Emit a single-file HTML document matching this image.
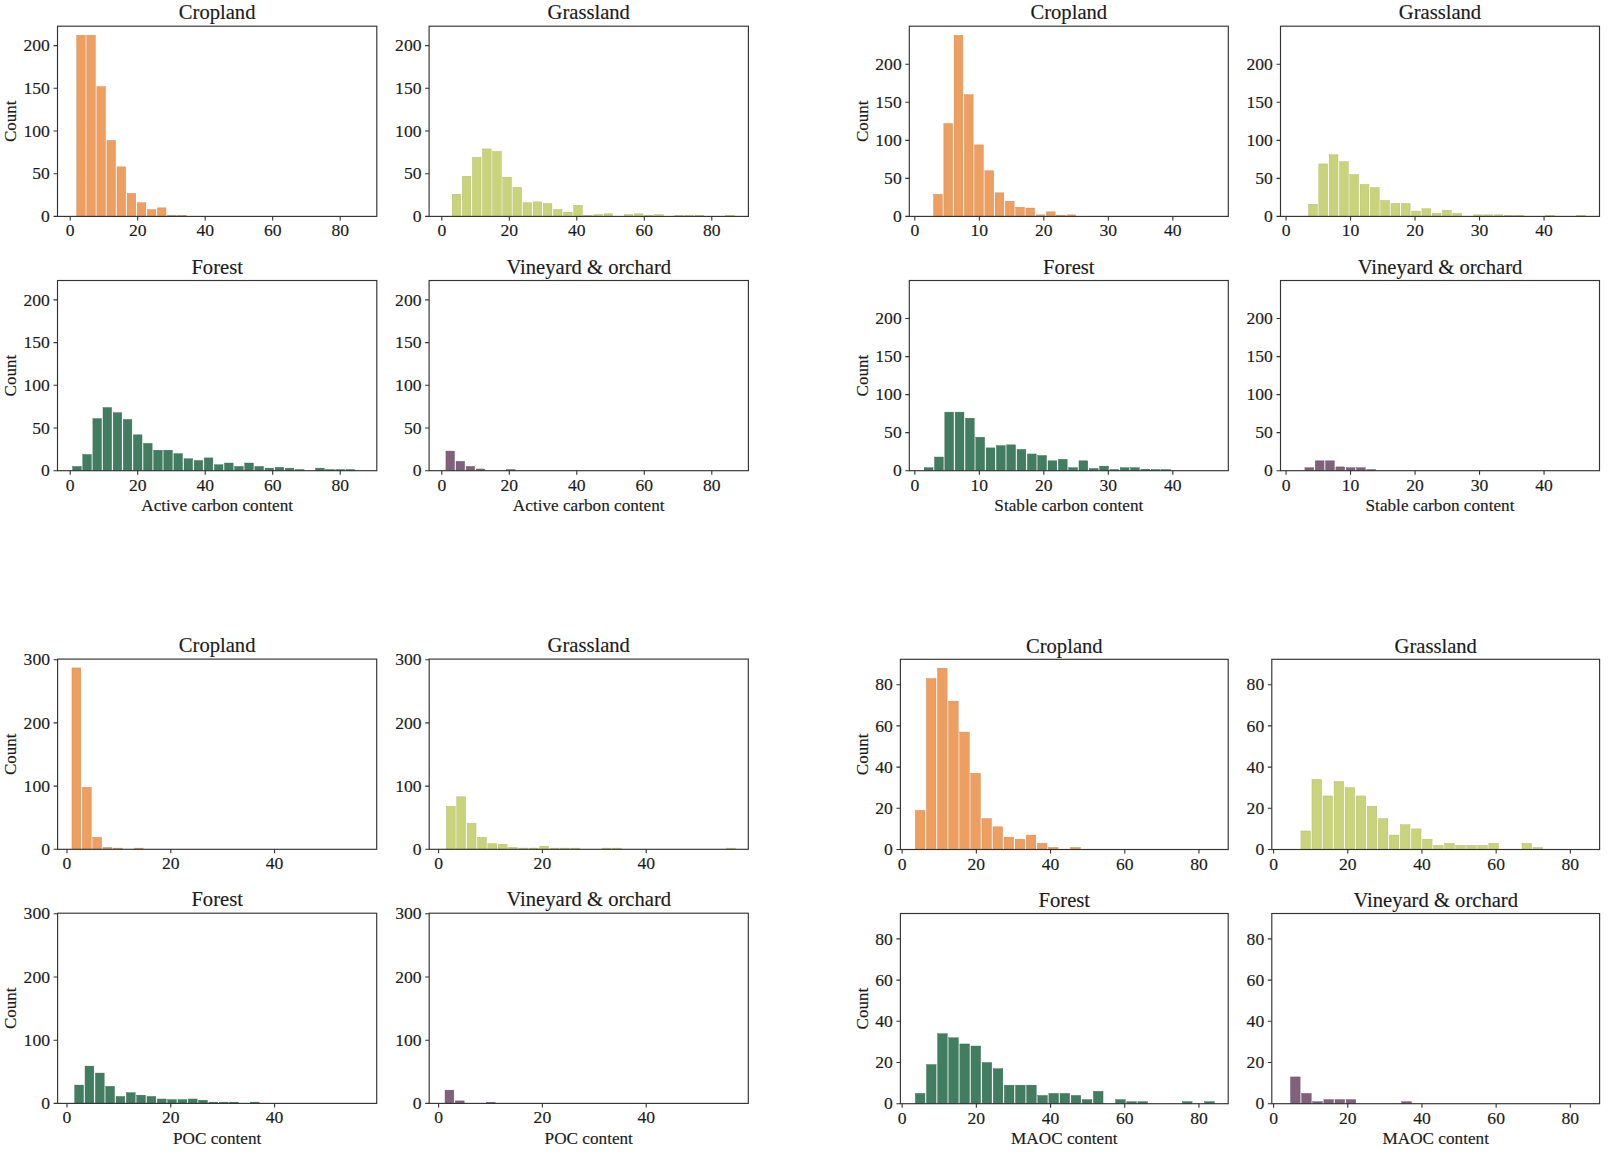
<!DOCTYPE html>
<html><head><meta charset="utf-8"><style>
html,body{margin:0;padding:0;background:#fff;}
svg{display:block;}
text{font-family:"Liberation Serif", serif;stroke:#1a1a1a;stroke-width:0.15px;}
</style></head><body>
<svg width="1608" height="1152" viewBox="0 0 1608 1152">
<rect width="1608" height="1152" fill="#fff"/>
<g fill="#EE9E5F" stroke="#ca8651" stroke-width="0.4"><rect x="76.69" y="35.35" width="8.59" height="181.05"/><rect x="86.78" y="35.35" width="8.59" height="181.05"/><rect x="96.87" y="86.59" width="8.59" height="129.81"/><rect x="106.96" y="140.39" width="8.59" height="76.01"/><rect x="117.05" y="166.87" width="8.59" height="49.53"/><rect x="127.14" y="193.34" width="8.59" height="23.06"/><rect x="137.24" y="202.74" width="8.59" height="13.66"/><rect x="147.33" y="209.57" width="8.59" height="6.83"/><rect x="157.42" y="207.86" width="8.59" height="8.54"/><rect x="167.51" y="215.2" width="8.59" height="1.2"/><rect x="177.6" y="215.2" width="8.59" height="1.2"/></g>
<rect x="57.5" y="26.2" width="319.3" height="190.2" fill="none" stroke="#333333" stroke-width="1.15"/>
<path d="M53.5 216.4H57.5M53.5 173.7H57.5M53.5 131H57.5M53.5 88.3H57.5M53.5 45.6H57.5M70.2 216.4V220.4M137.7 216.4V220.4M205.2 216.4V220.4M272.7 216.4V220.4M340.2 216.4V220.4" stroke="#333333" stroke-width="1.1" fill="none"/>
<g font-size="17.6" fill="#1a1a1a"><text x="49.9" y="222" text-anchor="end">0</text><text x="49.9" y="179.3" text-anchor="end">50</text><text x="49.9" y="136.6" text-anchor="end">100</text><text x="49.9" y="93.9" text-anchor="end">150</text><text x="49.9" y="51.2" text-anchor="end">200</text><text x="70.2" y="236.4" text-anchor="middle">0</text><text x="137.7" y="236.4" text-anchor="middle">20</text><text x="205.2" y="236.4" text-anchor="middle">40</text><text x="272.7" y="236.4" text-anchor="middle">60</text><text x="340.2" y="236.4" text-anchor="middle">80</text></g>
<text x="217.15" y="19.4" text-anchor="middle" font-size="20.6" fill="#1a1a1a">Cropland</text>
<text transform="translate(15.9 121.3) rotate(-90)" text-anchor="middle" font-size="17" fill="#1a1a1a">Count</text>
<g fill="#C9D47A" stroke="#abb468" stroke-width="0.4"><rect x="452.17" y="194.2" width="8.62" height="22.2"/><rect x="462.29" y="176.26" width="8.62" height="40.14"/><rect x="472.42" y="157.47" width="8.62" height="58.93"/><rect x="482.54" y="148.93" width="8.62" height="67.47"/><rect x="492.67" y="151.5" width="8.62" height="64.9"/><rect x="502.79" y="177.12" width="8.62" height="39.28"/><rect x="512.92" y="187.36" width="8.62" height="29.04"/><rect x="523.04" y="202.74" width="8.62" height="13.66"/><rect x="533.17" y="201.88" width="8.62" height="14.52"/><rect x="543.29" y="203.59" width="8.62" height="12.81"/><rect x="553.42" y="209.57" width="8.62" height="6.83"/><rect x="563.54" y="212.13" width="8.62" height="4.27"/><rect x="573.67" y="205.3" width="8.62" height="11.1"/><rect x="583.79" y="215.2" width="8.62" height="1.2"/><rect x="593.92" y="214.69" width="8.62" height="1.71"/><rect x="604.04" y="213.84" width="8.62" height="2.56"/><rect x="624.29" y="214.69" width="8.62" height="1.71"/><rect x="634.42" y="213.84" width="8.62" height="2.56"/><rect x="644.54" y="215.2" width="8.62" height="1.2"/><rect x="654.67" y="214.69" width="8.62" height="1.71"/><rect x="674.92" y="215.2" width="8.62" height="1.2"/><rect x="685.04" y="215.2" width="8.62" height="1.2"/><rect x="695.17" y="215.2" width="8.62" height="1.2"/><rect x="725.54" y="215.2" width="8.62" height="1.2"/></g>
<rect x="429.1" y="26.2" width="319.3" height="190.2" fill="none" stroke="#333333" stroke-width="1.15"/>
<path d="M425.1 216.4H429.1M425.1 173.7H429.1M425.1 131H429.1M425.1 88.3H429.1M425.1 45.6H429.1M441.8 216.4V220.4M509.3 216.4V220.4M576.8 216.4V220.4M644.3 216.4V220.4M711.8 216.4V220.4" stroke="#333333" stroke-width="1.1" fill="none"/>
<g font-size="17.6" fill="#1a1a1a"><text x="421.5" y="222" text-anchor="end">0</text><text x="421.5" y="179.3" text-anchor="end">50</text><text x="421.5" y="136.6" text-anchor="end">100</text><text x="421.5" y="93.9" text-anchor="end">150</text><text x="421.5" y="51.2" text-anchor="end">200</text><text x="441.8" y="236.4" text-anchor="middle">0</text><text x="509.3" y="236.4" text-anchor="middle">20</text><text x="576.8" y="236.4" text-anchor="middle">40</text><text x="644.3" y="236.4" text-anchor="middle">60</text><text x="711.8" y="236.4" text-anchor="middle">80</text></g>
<text x="588.75" y="19.4" text-anchor="middle" font-size="20.6" fill="#1a1a1a">Grassland</text>
<g fill="#417D61" stroke="#376a52" stroke-width="0.4"><rect x="72.64" y="466.43" width="8.62" height="4.27"/><rect x="82.76" y="454.47" width="8.62" height="16.23"/><rect x="92.89" y="418.61" width="8.62" height="52.09"/><rect x="103.01" y="407.5" width="8.62" height="63.2"/><rect x="113.14" y="412.63" width="8.62" height="58.07"/><rect x="123.26" y="419.46" width="8.62" height="51.24"/><rect x="133.39" y="434.83" width="8.62" height="35.87"/><rect x="143.51" y="443.37" width="8.62" height="27.33"/><rect x="153.64" y="450.2" width="8.62" height="20.5"/><rect x="163.76" y="450.2" width="8.62" height="20.5"/><rect x="173.89" y="453.62" width="8.62" height="17.08"/><rect x="184.01" y="458.74" width="8.62" height="11.96"/><rect x="194.14" y="460.45" width="8.62" height="10.25"/><rect x="204.26" y="457.89" width="8.62" height="12.81"/><rect x="214.39" y="464.72" width="8.62" height="5.98"/><rect x="224.51" y="463.01" width="8.62" height="7.69"/><rect x="234.64" y="466.43" width="8.62" height="4.27"/><rect x="244.76" y="463.01" width="8.62" height="7.69"/><rect x="254.89" y="466.43" width="8.62" height="4.27"/><rect x="265.01" y="468.14" width="8.62" height="2.56"/><rect x="275.14" y="467.28" width="8.62" height="3.42"/><rect x="285.26" y="468.14" width="8.62" height="2.56"/><rect x="295.39" y="469.5" width="8.62" height="1.2"/><rect x="315.64" y="468.14" width="8.62" height="2.56"/><rect x="325.76" y="469.5" width="8.62" height="1.2"/><rect x="335.89" y="469.5" width="8.62" height="1.2"/><rect x="346.01" y="469.5" width="8.62" height="1.2"/></g>
<rect x="57.5" y="280.5" width="319.3" height="190.2" fill="none" stroke="#333333" stroke-width="1.15"/>
<path d="M53.5 470.7H57.5M53.5 428H57.5M53.5 385.3H57.5M53.5 342.6H57.5M53.5 299.9H57.5M70.2 470.7V474.7M137.7 470.7V474.7M205.2 470.7V474.7M272.7 470.7V474.7M340.2 470.7V474.7" stroke="#333333" stroke-width="1.1" fill="none"/>
<g font-size="17.6" fill="#1a1a1a"><text x="49.9" y="476.3" text-anchor="end">0</text><text x="49.9" y="433.6" text-anchor="end">50</text><text x="49.9" y="390.9" text-anchor="end">100</text><text x="49.9" y="348.2" text-anchor="end">150</text><text x="49.9" y="305.5" text-anchor="end">200</text><text x="70.2" y="490.7" text-anchor="middle">0</text><text x="137.7" y="490.7" text-anchor="middle">20</text><text x="205.2" y="490.7" text-anchor="middle">40</text><text x="272.7" y="490.7" text-anchor="middle">60</text><text x="340.2" y="490.7" text-anchor="middle">80</text></g>
<text x="217.15" y="273.7" text-anchor="middle" font-size="20.6" fill="#1a1a1a">Forest</text>
<text x="217.15" y="511" text-anchor="middle" font-size="17.2" fill="#1a1a1a">Active carbon content</text>
<text transform="translate(15.9 375.6) rotate(-90)" text-anchor="middle" font-size="17" fill="#1a1a1a">Count</text>
<g fill="#80607A" stroke="#6d5268" stroke-width="0.4"><rect x="445.93" y="451.06" width="8.59" height="19.64"/><rect x="456.02" y="461.31" width="8.59" height="9.39"/><rect x="466.11" y="466.43" width="8.59" height="4.27"/><rect x="476.2" y="468.99" width="8.59" height="1.71"/><rect x="506.47" y="469.5" width="8.59" height="1.2"/></g>
<rect x="429.1" y="280.5" width="319.3" height="190.2" fill="none" stroke="#333333" stroke-width="1.15"/>
<path d="M425.1 470.7H429.1M425.1 428H429.1M425.1 385.3H429.1M425.1 342.6H429.1M425.1 299.9H429.1M441.8 470.7V474.7M509.3 470.7V474.7M576.8 470.7V474.7M644.3 470.7V474.7M711.8 470.7V474.7" stroke="#333333" stroke-width="1.1" fill="none"/>
<g font-size="17.6" fill="#1a1a1a"><text x="421.5" y="476.3" text-anchor="end">0</text><text x="421.5" y="433.6" text-anchor="end">50</text><text x="421.5" y="390.9" text-anchor="end">100</text><text x="421.5" y="348.2" text-anchor="end">150</text><text x="421.5" y="305.5" text-anchor="end">200</text><text x="441.8" y="490.7" text-anchor="middle">0</text><text x="509.3" y="490.7" text-anchor="middle">20</text><text x="576.8" y="490.7" text-anchor="middle">40</text><text x="644.3" y="490.7" text-anchor="middle">60</text><text x="711.8" y="490.7" text-anchor="middle">80</text></g>
<text x="588.75" y="273.7" text-anchor="middle" font-size="20.6" fill="#1a1a1a">Vineyard &amp; orchard</text>
<text x="588.75" y="511" text-anchor="middle" font-size="17.2" fill="#1a1a1a">Active carbon content</text>
<g fill="#EE9E5F" stroke="#ca8651" stroke-width="0.4"><rect x="933.6" y="194.34" width="8.76" height="22.06"/><rect x="943.85" y="123.59" width="8.76" height="92.81"/><rect x="954.11" y="35.35" width="8.76" height="181.05"/><rect x="964.36" y="94.69" width="8.76" height="121.71"/><rect x="974.62" y="144.89" width="8.76" height="71.51"/><rect x="984.87" y="170.76" width="8.76" height="45.64"/><rect x="995.13" y="192.82" width="8.76" height="23.58"/><rect x="1005.38" y="201.19" width="8.76" height="15.21"/><rect x="1015.64" y="207.27" width="8.76" height="9.13"/><rect x="1025.89" y="208.03" width="8.76" height="8.37"/><rect x="1036.15" y="214.88" width="8.76" height="1.52"/><rect x="1046.41" y="211.84" width="8.76" height="4.56"/><rect x="1056.66" y="215.2" width="8.76" height="1.2"/><rect x="1066.92" y="214.88" width="8.76" height="1.52"/></g>
<rect x="909.3" y="26.2" width="319" height="190.2" fill="none" stroke="#333333" stroke-width="1.15"/>
<path d="M905.3 216.4H909.3M905.3 178.36H909.3M905.3 140.33H909.3M905.3 102.29H909.3M905.3 64.26H909.3M914.85 216.4V220.4M979.35 216.4V220.4M1043.85 216.4V220.4M1108.35 216.4V220.4M1172.85 216.4V220.4" stroke="#333333" stroke-width="1.1" fill="none"/>
<g font-size="17.6" fill="#1a1a1a"><text x="901.7" y="222" text-anchor="end">0</text><text x="901.7" y="183.96" text-anchor="end">50</text><text x="901.7" y="145.93" text-anchor="end">100</text><text x="901.7" y="107.89" text-anchor="end">150</text><text x="901.7" y="69.86" text-anchor="end">200</text><text x="914.85" y="236.4" text-anchor="middle">0</text><text x="979.35" y="236.4" text-anchor="middle">10</text><text x="1043.85" y="236.4" text-anchor="middle">20</text><text x="1108.35" y="236.4" text-anchor="middle">30</text><text x="1172.85" y="236.4" text-anchor="middle">40</text></g>
<text x="1068.8" y="19.4" text-anchor="middle" font-size="20.6" fill="#1a1a1a">Cropland</text>
<text transform="translate(867.6 121.3) rotate(-90)" text-anchor="middle" font-size="17" fill="#1a1a1a">Count</text>
<g fill="#C9D47A" stroke="#abb468" stroke-width="0.4"><rect x="1308.54" y="204.23" width="8.81" height="12.17"/><rect x="1318.84" y="163.91" width="8.81" height="52.49"/><rect x="1329.15" y="154.78" width="8.81" height="61.62"/><rect x="1339.46" y="161.63" width="8.81" height="54.77"/><rect x="1349.76" y="174.56" width="8.81" height="41.84"/><rect x="1360.07" y="184.45" width="8.81" height="31.95"/><rect x="1370.38" y="187.49" width="8.81" height="28.91"/><rect x="1380.69" y="200.43" width="8.81" height="15.97"/><rect x="1390.99" y="203.47" width="8.81" height="12.93"/><rect x="1401.3" y="203.47" width="8.81" height="12.93"/><rect x="1411.61" y="211.08" width="8.81" height="5.32"/><rect x="1421.91" y="208.79" width="8.81" height="7.61"/><rect x="1432.22" y="213.36" width="8.81" height="3.04"/><rect x="1442.53" y="210.31" width="8.81" height="6.09"/><rect x="1452.84" y="213.36" width="8.81" height="3.04"/><rect x="1473.45" y="214.88" width="8.81" height="1.52"/><rect x="1483.76" y="214.88" width="8.81" height="1.52"/><rect x="1494.06" y="214.88" width="8.81" height="1.52"/><rect x="1504.37" y="215.2" width="8.81" height="1.2"/><rect x="1514.68" y="215.2" width="8.81" height="1.2"/><rect x="1545.6" y="215.2" width="8.81" height="1.2"/><rect x="1576.52" y="215.2" width="8.81" height="1.2"/></g>
<rect x="1280.5" y="26.2" width="319" height="190.2" fill="none" stroke="#333333" stroke-width="1.15"/>
<path d="M1276.5 216.4H1280.5M1276.5 178.36H1280.5M1276.5 140.33H1280.5M1276.5 102.29H1280.5M1276.5 64.26H1280.5M1286.05 216.4V220.4M1350.55 216.4V220.4M1415.05 216.4V220.4M1479.55 216.4V220.4M1544.05 216.4V220.4" stroke="#333333" stroke-width="1.1" fill="none"/>
<g font-size="17.6" fill="#1a1a1a"><text x="1272.9" y="222" text-anchor="end">0</text><text x="1272.9" y="183.96" text-anchor="end">50</text><text x="1272.9" y="145.93" text-anchor="end">100</text><text x="1272.9" y="107.89" text-anchor="end">150</text><text x="1272.9" y="69.86" text-anchor="end">200</text><text x="1286.05" y="236.4" text-anchor="middle">0</text><text x="1350.55" y="236.4" text-anchor="middle">10</text><text x="1415.05" y="236.4" text-anchor="middle">20</text><text x="1479.55" y="236.4" text-anchor="middle">30</text><text x="1544.05" y="236.4" text-anchor="middle">40</text></g>
<text x="1440" y="19.4" text-anchor="middle" font-size="20.6" fill="#1a1a1a">Grassland</text>
<g fill="#417D61" stroke="#376a52" stroke-width="0.4"><rect x="924.18" y="467.66" width="8.82" height="3.04"/><rect x="934.5" y="457.01" width="8.82" height="13.69"/><rect x="944.82" y="412.13" width="8.82" height="58.57"/><rect x="955.14" y="412.13" width="8.82" height="58.57"/><rect x="965.46" y="418.21" width="8.82" height="52.49"/><rect x="975.78" y="437.23" width="8.82" height="33.47"/><rect x="986.1" y="447.88" width="8.82" height="22.82"/><rect x="996.42" y="445.6" width="8.82" height="25.1"/><rect x="1006.74" y="444.84" width="8.82" height="25.86"/><rect x="1017.06" y="449.4" width="8.82" height="21.3"/><rect x="1027.38" y="453.96" width="8.82" height="16.74"/><rect x="1037.7" y="455.49" width="8.82" height="15.21"/><rect x="1048.02" y="460.81" width="8.82" height="9.89"/><rect x="1058.34" y="459.29" width="8.82" height="11.41"/><rect x="1068.66" y="467.66" width="8.82" height="3.04"/><rect x="1078.98" y="460.81" width="8.82" height="9.89"/><rect x="1089.3" y="468.42" width="8.82" height="2.28"/><rect x="1099.62" y="466.14" width="8.82" height="4.56"/><rect x="1109.94" y="469.5" width="8.82" height="1.2"/><rect x="1120.26" y="467.66" width="8.82" height="3.04"/><rect x="1130.58" y="467.66" width="8.82" height="3.04"/><rect x="1140.9" y="469.18" width="8.82" height="1.52"/><rect x="1151.22" y="469.5" width="8.82" height="1.2"/><rect x="1161.54" y="469.5" width="8.82" height="1.2"/></g>
<rect x="909.3" y="280.5" width="319" height="190.2" fill="none" stroke="#333333" stroke-width="1.15"/>
<path d="M905.3 470.7H909.3M905.3 432.66H909.3M905.3 394.63H909.3M905.3 356.59H909.3M905.3 318.56H909.3M914.85 470.7V474.7M979.35 470.7V474.7M1043.85 470.7V474.7M1108.35 470.7V474.7M1172.85 470.7V474.7" stroke="#333333" stroke-width="1.1" fill="none"/>
<g font-size="17.6" fill="#1a1a1a"><text x="901.7" y="476.3" text-anchor="end">0</text><text x="901.7" y="438.26" text-anchor="end">50</text><text x="901.7" y="400.23" text-anchor="end">100</text><text x="901.7" y="362.19" text-anchor="end">150</text><text x="901.7" y="324.16" text-anchor="end">200</text><text x="914.85" y="490.7" text-anchor="middle">0</text><text x="979.35" y="490.7" text-anchor="middle">10</text><text x="1043.85" y="490.7" text-anchor="middle">20</text><text x="1108.35" y="490.7" text-anchor="middle">30</text><text x="1172.85" y="490.7" text-anchor="middle">40</text></g>
<text x="1068.8" y="273.7" text-anchor="middle" font-size="20.6" fill="#1a1a1a">Forest</text>
<text x="1068.8" y="511" text-anchor="middle" font-size="17.2" fill="#1a1a1a">Stable carbon content</text>
<text transform="translate(867.6 375.6) rotate(-90)" text-anchor="middle" font-size="17" fill="#1a1a1a">Count</text>
<g fill="#80607A" stroke="#6d5268" stroke-width="0.4"><rect x="1304.92" y="467.66" width="8.82" height="3.04"/><rect x="1315.24" y="460.81" width="8.82" height="9.89"/><rect x="1325.56" y="460.81" width="8.82" height="9.89"/><rect x="1335.88" y="466.9" width="8.82" height="3.8"/><rect x="1346.2" y="467.66" width="8.82" height="3.04"/><rect x="1356.52" y="467.66" width="8.82" height="3.04"/><rect x="1366.84" y="469.5" width="8.82" height="1.2"/></g>
<rect x="1280.5" y="280.5" width="319" height="190.2" fill="none" stroke="#333333" stroke-width="1.15"/>
<path d="M1276.5 470.7H1280.5M1276.5 432.66H1280.5M1276.5 394.63H1280.5M1276.5 356.59H1280.5M1276.5 318.56H1280.5M1286.05 470.7V474.7M1350.55 470.7V474.7M1415.05 470.7V474.7M1479.55 470.7V474.7M1544.05 470.7V474.7" stroke="#333333" stroke-width="1.1" fill="none"/>
<g font-size="17.6" fill="#1a1a1a"><text x="1272.9" y="476.3" text-anchor="end">0</text><text x="1272.9" y="438.26" text-anchor="end">50</text><text x="1272.9" y="400.23" text-anchor="end">100</text><text x="1272.9" y="362.19" text-anchor="end">150</text><text x="1272.9" y="324.16" text-anchor="end">200</text><text x="1286.05" y="490.7" text-anchor="middle">0</text><text x="1350.55" y="490.7" text-anchor="middle">10</text><text x="1415.05" y="490.7" text-anchor="middle">20</text><text x="1479.55" y="490.7" text-anchor="middle">30</text><text x="1544.05" y="490.7" text-anchor="middle">40</text></g>
<text x="1440" y="273.7" text-anchor="middle" font-size="20.6" fill="#1a1a1a">Vineyard &amp; orchard</text>
<text x="1440" y="511" text-anchor="middle" font-size="17.2" fill="#1a1a1a">Stable carbon content</text>
<g fill="#EE9E5F" stroke="#ca8651" stroke-width="0.4"><rect x="71.95" y="667.92" width="8.88" height="181.38"/><rect x="82.33" y="787.36" width="8.88" height="61.94"/><rect x="92.71" y="837.29" width="8.88" height="12.01"/><rect x="103.09" y="847.4" width="8.88" height="1.9"/><rect x="113.47" y="848.1" width="8.88" height="1.2"/><rect x="134.23" y="848.1" width="8.88" height="1.2"/></g>
<rect x="57.6" y="659.1" width="319.1" height="190.2" fill="none" stroke="#333333" stroke-width="1.15"/>
<path d="M53.6 849.3H57.6M53.6 786.1H57.6M53.6 722.9H57.6M53.6 659.7H57.6M67 849.3V853.3M170.8 849.3V853.3M274.6 849.3V853.3" stroke="#333333" stroke-width="1.1" fill="none"/>
<g font-size="17.6" fill="#1a1a1a"><text x="50" y="854.9" text-anchor="end">0</text><text x="50" y="791.7" text-anchor="end">100</text><text x="50" y="728.5" text-anchor="end">200</text><text x="50" y="665.3" text-anchor="end">300</text><text x="67" y="869.3" text-anchor="middle">0</text><text x="170.8" y="869.3" text-anchor="middle">20</text><text x="274.6" y="869.3" text-anchor="middle">40</text></g>
<text x="217.15" y="652.3" text-anchor="middle" font-size="20.6" fill="#1a1a1a">Cropland</text>
<text transform="translate(15.9 754.2) rotate(-90)" text-anchor="middle" font-size="17" fill="#1a1a1a">Count</text>
<g fill="#C9D47A" stroke="#abb468" stroke-width="0.4"><rect x="446.36" y="806.32" width="8.88" height="42.98"/><rect x="456.74" y="796.84" width="8.88" height="52.46"/><rect x="467.12" y="823.39" width="8.88" height="25.91"/><rect x="477.5" y="837.29" width="8.88" height="12.01"/><rect x="487.88" y="843.61" width="8.88" height="5.69"/><rect x="498.26" y="844.24" width="8.88" height="5.06"/><rect x="508.64" y="847.4" width="8.88" height="1.9"/><rect x="519.02" y="848.04" width="8.88" height="1.26"/><rect x="529.4" y="848.04" width="8.88" height="1.26"/><rect x="539.78" y="846.14" width="8.88" height="3.16"/><rect x="550.16" y="848.1" width="8.88" height="1.2"/><rect x="560.54" y="848.1" width="8.88" height="1.2"/><rect x="570.92" y="848.1" width="8.88" height="1.2"/><rect x="602.06" y="848.1" width="8.88" height="1.2"/><rect x="612.44" y="848.1" width="8.88" height="1.2"/><rect x="726.62" y="848.1" width="8.88" height="1.2"/></g>
<rect x="429.2" y="659.1" width="319.1" height="190.2" fill="none" stroke="#333333" stroke-width="1.15"/>
<path d="M425.2 849.3H429.2M425.2 786.1H429.2M425.2 722.9H429.2M425.2 659.7H429.2M438.6 849.3V853.3M542.4 849.3V853.3M646.2 849.3V853.3" stroke="#333333" stroke-width="1.1" fill="none"/>
<g font-size="17.6" fill="#1a1a1a"><text x="421.6" y="854.9" text-anchor="end">0</text><text x="421.6" y="791.7" text-anchor="end">100</text><text x="421.6" y="728.5" text-anchor="end">200</text><text x="421.6" y="665.3" text-anchor="end">300</text><text x="438.6" y="869.3" text-anchor="middle">0</text><text x="542.4" y="869.3" text-anchor="middle">20</text><text x="646.2" y="869.3" text-anchor="middle">40</text></g>
<text x="588.75" y="652.3" text-anchor="middle" font-size="20.6" fill="#1a1a1a">Grassland</text>
<g fill="#417D61" stroke="#376a52" stroke-width="0.4"><rect x="74.7" y="1085.07" width="8.83" height="18.33"/><rect x="85.03" y="1066.11" width="8.83" height="37.29"/><rect x="95.36" y="1073.06" width="8.83" height="30.34"/><rect x="105.69" y="1086.34" width="8.83" height="17.06"/><rect x="116.02" y="1096.45" width="8.83" height="6.95"/><rect x="126.35" y="1092.66" width="8.83" height="10.74"/><rect x="136.67" y="1095.18" width="8.83" height="8.22"/><rect x="147" y="1096.45" width="8.83" height="6.95"/><rect x="157.33" y="1098.98" width="8.83" height="4.42"/><rect x="167.66" y="1099.61" width="8.83" height="3.79"/><rect x="177.99" y="1099.61" width="8.83" height="3.79"/><rect x="188.31" y="1098.98" width="8.83" height="4.42"/><rect x="198.64" y="1100.24" width="8.83" height="3.16"/><rect x="208.97" y="1102.14" width="8.83" height="1.26"/><rect x="219.3" y="1102.14" width="8.83" height="1.26"/><rect x="229.63" y="1102.14" width="8.83" height="1.26"/><rect x="250.28" y="1102.14" width="8.83" height="1.26"/></g>
<rect x="57.6" y="913.2" width="319.1" height="190.2" fill="none" stroke="#333333" stroke-width="1.15"/>
<path d="M53.6 1103.4H57.6M53.6 1040.2H57.6M53.6 977H57.6M53.6 913.8H57.6M67 1103.4V1107.4M170.8 1103.4V1107.4M274.6 1103.4V1107.4" stroke="#333333" stroke-width="1.1" fill="none"/>
<g font-size="17.6" fill="#1a1a1a"><text x="50" y="1109" text-anchor="end">0</text><text x="50" y="1045.8" text-anchor="end">100</text><text x="50" y="982.6" text-anchor="end">200</text><text x="50" y="919.4" text-anchor="end">300</text><text x="67" y="1123.4" text-anchor="middle">0</text><text x="170.8" y="1123.4" text-anchor="middle">20</text><text x="274.6" y="1123.4" text-anchor="middle">40</text></g>
<text x="217.15" y="906.4" text-anchor="middle" font-size="20.6" fill="#1a1a1a">Forest</text>
<text x="217.15" y="1143.7" text-anchor="middle" font-size="17.2" fill="#1a1a1a">POC content</text>
<text transform="translate(15.9 1008.3) rotate(-90)" text-anchor="middle" font-size="17" fill="#1a1a1a">Count</text>
<g fill="#80607A" stroke="#6d5268" stroke-width="0.4"><rect x="445.01" y="1090.13" width="8.83" height="13.27"/><rect x="455.34" y="1100.87" width="8.83" height="2.53"/><rect x="486.32" y="1102.2" width="8.83" height="1.2"/></g>
<rect x="429.2" y="913.2" width="319.1" height="190.2" fill="none" stroke="#333333" stroke-width="1.15"/>
<path d="M425.2 1103.4H429.2M425.2 1040.2H429.2M425.2 977H429.2M425.2 913.8H429.2M438.6 1103.4V1107.4M542.4 1103.4V1107.4M646.2 1103.4V1107.4" stroke="#333333" stroke-width="1.1" fill="none"/>
<g font-size="17.6" fill="#1a1a1a"><text x="421.6" y="1109" text-anchor="end">0</text><text x="421.6" y="1045.8" text-anchor="end">100</text><text x="421.6" y="982.6" text-anchor="end">200</text><text x="421.6" y="919.4" text-anchor="end">300</text><text x="438.6" y="1123.4" text-anchor="middle">0</text><text x="542.4" y="1123.4" text-anchor="middle">20</text><text x="646.2" y="1123.4" text-anchor="middle">40</text></g>
<text x="588.75" y="906.4" text-anchor="middle" font-size="20.6" fill="#1a1a1a">Vineyard &amp; orchard</text>
<text x="588.75" y="1143.7" text-anchor="middle" font-size="17.2" fill="#1a1a1a">POC content</text>
<g fill="#EE9E5F" stroke="#ca8651" stroke-width="0.4"><rect x="915.33" y="810.36" width="9.59" height="39.14"/><rect x="926.42" y="678.52" width="9.59" height="170.98"/><rect x="937.51" y="668.22" width="9.59" height="181.28"/><rect x="948.61" y="701.18" width="9.59" height="148.32"/><rect x="959.7" y="732.08" width="9.59" height="117.42"/><rect x="970.79" y="773.28" width="9.59" height="76.22"/><rect x="981.89" y="818.6" width="9.59" height="30.9"/><rect x="992.98" y="826.84" width="9.59" height="22.66"/><rect x="1004.07" y="837.14" width="9.59" height="12.36"/><rect x="1015.16" y="839.2" width="9.59" height="10.3"/><rect x="1026.26" y="835.08" width="9.59" height="14.42"/><rect x="1037.35" y="843.32" width="9.59" height="6.18"/><rect x="1048.44" y="847.44" width="9.59" height="2.06"/><rect x="1070.63" y="847.44" width="9.59" height="2.06"/></g>
<rect x="900.4" y="659.3" width="327.8" height="190.2" fill="none" stroke="#333333" stroke-width="1.15"/>
<path d="M896.4 849.5H900.4M896.4 808.3H900.4M896.4 767.1H900.4M896.4 725.9H900.4M896.4 684.7H900.4M902.15 849.5V853.5M976.35 849.5V853.5M1050.55 849.5V853.5M1124.75 849.5V853.5M1198.95 849.5V853.5" stroke="#333333" stroke-width="1.1" fill="none"/>
<g font-size="17.6" fill="#1a1a1a"><text x="892.8" y="855.1" text-anchor="end">0</text><text x="892.8" y="813.9" text-anchor="end">20</text><text x="892.8" y="772.7" text-anchor="end">40</text><text x="892.8" y="731.5" text-anchor="end">60</text><text x="892.8" y="690.3" text-anchor="end">80</text><text x="902.15" y="869.5" text-anchor="middle">0</text><text x="976.35" y="869.5" text-anchor="middle">20</text><text x="1050.55" y="869.5" text-anchor="middle">40</text><text x="1124.75" y="869.5" text-anchor="middle">60</text><text x="1198.95" y="869.5" text-anchor="middle">80</text></g>
<text x="1064.3" y="652.5" text-anchor="middle" font-size="20.6" fill="#1a1a1a">Cropland</text>
<text transform="translate(867.6 754.4) rotate(-90)" text-anchor="middle" font-size="17" fill="#1a1a1a">Count</text>
<g fill="#C9D47A" stroke="#abb468" stroke-width="0.4"><rect x="1300.9" y="830.96" width="9.56" height="18.54"/><rect x="1311.96" y="779.46" width="9.56" height="70.04"/><rect x="1323.01" y="795.94" width="9.56" height="53.56"/><rect x="1334.07" y="781.52" width="9.56" height="67.98"/><rect x="1345.12" y="787.7" width="9.56" height="61.8"/><rect x="1356.18" y="795.94" width="9.56" height="53.56"/><rect x="1367.24" y="806.24" width="9.56" height="43.26"/><rect x="1378.29" y="818.6" width="9.56" height="30.9"/><rect x="1389.35" y="835.08" width="9.56" height="14.42"/><rect x="1400.4" y="824.78" width="9.56" height="24.72"/><rect x="1411.46" y="828.9" width="9.56" height="20.6"/><rect x="1422.51" y="839.2" width="9.56" height="10.3"/><rect x="1433.57" y="845.38" width="9.56" height="4.12"/><rect x="1444.63" y="843.32" width="9.56" height="6.18"/><rect x="1455.68" y="845.38" width="9.56" height="4.12"/><rect x="1466.74" y="845.38" width="9.56" height="4.12"/><rect x="1477.79" y="845.38" width="9.56" height="4.12"/><rect x="1488.85" y="843.32" width="9.56" height="6.18"/><rect x="1522.02" y="843.32" width="9.56" height="6.18"/><rect x="1533.07" y="847.44" width="9.56" height="2.06"/></g>
<rect x="1271.8" y="659.3" width="327.8" height="190.2" fill="none" stroke="#333333" stroke-width="1.15"/>
<path d="M1267.8 849.5H1271.8M1267.8 808.3H1271.8M1267.8 767.1H1271.8M1267.8 725.9H1271.8M1267.8 684.7H1271.8M1273.55 849.5V853.5M1347.75 849.5V853.5M1421.95 849.5V853.5M1496.15 849.5V853.5M1570.35 849.5V853.5" stroke="#333333" stroke-width="1.1" fill="none"/>
<g font-size="17.6" fill="#1a1a1a"><text x="1264.2" y="855.1" text-anchor="end">0</text><text x="1264.2" y="813.9" text-anchor="end">20</text><text x="1264.2" y="772.7" text-anchor="end">40</text><text x="1264.2" y="731.5" text-anchor="end">60</text><text x="1264.2" y="690.3" text-anchor="end">80</text><text x="1273.55" y="869.5" text-anchor="middle">0</text><text x="1347.75" y="869.5" text-anchor="middle">20</text><text x="1421.95" y="869.5" text-anchor="middle">40</text><text x="1496.15" y="869.5" text-anchor="middle">60</text><text x="1570.35" y="869.5" text-anchor="middle">80</text></g>
<text x="1435.7" y="652.5" text-anchor="middle" font-size="20.6" fill="#1a1a1a">Grassland</text>
<g fill="#417D61" stroke="#376a52" stroke-width="0.4"><rect x="915.33" y="1093.4" width="9.63" height="10.3"/><rect x="926.46" y="1064.56" width="9.63" height="39.14"/><rect x="937.59" y="1033.66" width="9.63" height="70.04"/><rect x="948.72" y="1037.78" width="9.63" height="65.92"/><rect x="959.85" y="1043.96" width="9.63" height="59.74"/><rect x="970.98" y="1046.02" width="9.63" height="57.68"/><rect x="982.11" y="1062.5" width="9.63" height="41.2"/><rect x="993.24" y="1068.68" width="9.63" height="35.02"/><rect x="1004.37" y="1085.16" width="9.63" height="18.54"/><rect x="1015.5" y="1085.16" width="9.63" height="18.54"/><rect x="1026.63" y="1085.16" width="9.63" height="18.54"/><rect x="1037.76" y="1095.46" width="9.63" height="8.24"/><rect x="1048.89" y="1093.4" width="9.63" height="10.3"/><rect x="1060.02" y="1093.4" width="9.63" height="10.3"/><rect x="1071.15" y="1095.46" width="9.63" height="8.24"/><rect x="1082.28" y="1099.58" width="9.63" height="4.12"/><rect x="1093.41" y="1091.34" width="9.63" height="12.36"/><rect x="1115.67" y="1099.58" width="9.63" height="4.12"/><rect x="1126.8" y="1101.64" width="9.63" height="2.06"/><rect x="1137.93" y="1101.64" width="9.63" height="2.06"/><rect x="1182.45" y="1101.64" width="9.63" height="2.06"/><rect x="1204.71" y="1101.64" width="9.63" height="2.06"/></g>
<rect x="900.4" y="913.5" width="327.8" height="190.2" fill="none" stroke="#333333" stroke-width="1.15"/>
<path d="M896.4 1103.7H900.4M896.4 1062.5H900.4M896.4 1021.3H900.4M896.4 980.1H900.4M896.4 938.9H900.4M902.15 1103.7V1107.7M976.35 1103.7V1107.7M1050.55 1103.7V1107.7M1124.75 1103.7V1107.7M1198.95 1103.7V1107.7" stroke="#333333" stroke-width="1.1" fill="none"/>
<g font-size="17.6" fill="#1a1a1a"><text x="892.8" y="1109.3" text-anchor="end">0</text><text x="892.8" y="1068.1" text-anchor="end">20</text><text x="892.8" y="1026.9" text-anchor="end">40</text><text x="892.8" y="985.7" text-anchor="end">60</text><text x="892.8" y="944.5" text-anchor="end">80</text><text x="902.15" y="1123.7" text-anchor="middle">0</text><text x="976.35" y="1123.7" text-anchor="middle">20</text><text x="1050.55" y="1123.7" text-anchor="middle">40</text><text x="1124.75" y="1123.7" text-anchor="middle">60</text><text x="1198.95" y="1123.7" text-anchor="middle">80</text></g>
<text x="1064.3" y="906.7" text-anchor="middle" font-size="20.6" fill="#1a1a1a">Forest</text>
<text x="1064.3" y="1144" text-anchor="middle" font-size="17.2" fill="#1a1a1a">MAOC content</text>
<text transform="translate(867.6 1008.6) rotate(-90)" text-anchor="middle" font-size="17" fill="#1a1a1a">Count</text>
<g fill="#80607A" stroke="#6d5268" stroke-width="0.4"><rect x="1290.48" y="1076.92" width="9.63" height="26.78"/><rect x="1301.61" y="1093.4" width="9.63" height="10.3"/><rect x="1312.74" y="1101.64" width="9.63" height="2.06"/><rect x="1323.87" y="1099.58" width="9.63" height="4.12"/><rect x="1335" y="1099.58" width="9.63" height="4.12"/><rect x="1346.13" y="1099.58" width="9.63" height="4.12"/><rect x="1401.78" y="1101.64" width="9.63" height="2.06"/></g>
<rect x="1271.8" y="913.5" width="327.8" height="190.2" fill="none" stroke="#333333" stroke-width="1.15"/>
<path d="M1267.8 1103.7H1271.8M1267.8 1062.5H1271.8M1267.8 1021.3H1271.8M1267.8 980.1H1271.8M1267.8 938.9H1271.8M1273.55 1103.7V1107.7M1347.75 1103.7V1107.7M1421.95 1103.7V1107.7M1496.15 1103.7V1107.7M1570.35 1103.7V1107.7" stroke="#333333" stroke-width="1.1" fill="none"/>
<g font-size="17.6" fill="#1a1a1a"><text x="1264.2" y="1109.3" text-anchor="end">0</text><text x="1264.2" y="1068.1" text-anchor="end">20</text><text x="1264.2" y="1026.9" text-anchor="end">40</text><text x="1264.2" y="985.7" text-anchor="end">60</text><text x="1264.2" y="944.5" text-anchor="end">80</text><text x="1273.55" y="1123.7" text-anchor="middle">0</text><text x="1347.75" y="1123.7" text-anchor="middle">20</text><text x="1421.95" y="1123.7" text-anchor="middle">40</text><text x="1496.15" y="1123.7" text-anchor="middle">60</text><text x="1570.35" y="1123.7" text-anchor="middle">80</text></g>
<text x="1435.7" y="906.7" text-anchor="middle" font-size="20.6" fill="#1a1a1a">Vineyard &amp; orchard</text>
<text x="1435.7" y="1144" text-anchor="middle" font-size="17.2" fill="#1a1a1a">MAOC content</text>
</svg>
</body></html>
